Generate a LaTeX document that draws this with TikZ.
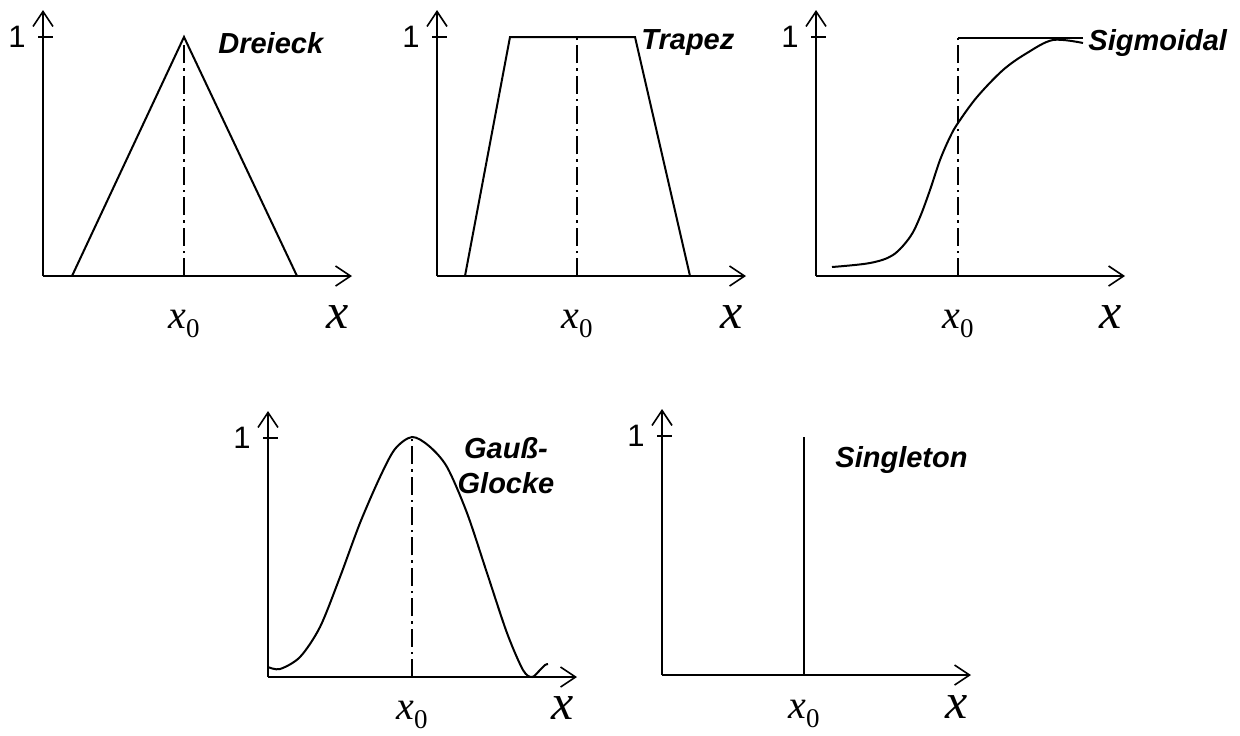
\documentclass[tikz,border=0pt]{standalone}
\usepackage{fontspec}
\setmainfont{Liberation Sans}
\newfontfamily\tnr{Liberation Serif}
\usetikzlibrary{arrows.meta}

\tikzset{
  achse/.style={line width=0.8pt, -{Straight Barb[length=7.5pt,width=10pt]}},
  strich/.style={line width=0.8pt},
  kurve/.style={line width=1pt},
  mitte/.style={line width=0.6pt, dash pattern=on 9pt off 2.5pt on 1.2pt off 2.5pt},
  typ/.style={font=\fontsize{14.5}{17.5}\selectfont\bfseries\itshape, inner sep=0pt},
  eins/.style={font=\fontsize{15.5}{17}\selectfont, inner sep=0pt},
  xnull/.style={font=\fontsize{20}{22}\selectfont\tnr\itshape, anchor=base, inner sep=0pt},
  xgross/.style={font=\fontsize{25}{26}\selectfont\tnr\itshape, anchor=base, inner sep=0pt}
}

% Achsen, Markierung 1 und Beschriftung x0 / x
\newcommand{\achsen}[3]{%
  \draw[achse] (0,0) -- (309,0);
  \draw[achse] (0,0) -- (0,266);
  \draw[strich] (-5,239) -- (10,239);
  \node[eins] (#1eins) at (-26,239) {1};
  \node[xnull] (#1xnull) at (#2,#3) {x{\upshape\fontsize{13.5}{14}\selectfont\raisebox{-4.5pt}{0}}};
  \node[xgross] (#1x) at (295,#3) {x};
}

\begin{document}
\begin{tikzpicture}[x=0.5pt, y=0.5pt]
\useasboundingbox (0,0) rectangle (1240,-735);
% Dreieck
\begin{scope}[shift={(43,-276)}]
  \achsen{drei}{141}{-52}
  \draw[mitte] (141,0) -- (141,239);
  \draw[kurve] (29,0) -- (141,239) -- (254,0);
  \node[typ, anchor=west] (dreieck) at (175,233) {Dreieck};
\end{scope}
% Trapez
\begin{scope}[shift={(437,-276)}]
  \achsen{trap}{140}{-52}
  \draw[mitte] (140,0) -- (140,239);
  \draw[kurve] (28,0) -- (73,239) -- (198,239) -- (253,0);
  \node[typ, anchor=west] (trapez) at (204,233) {Trapez};
\end{scope}
% Sigmoidal
\begin{scope}[shift={(816,-276)}]
  \achsen{sig}{142}{-52}
  \draw[mitte] (142,0) -- (142,238);
  \draw[kurve] (142,238) -- (267,238);
  \draw[kurve] plot[smooth, tension=0.55] coordinates {(16,9) (54,13) (77,21) (94,39) (104,59)
    (114,86) (124,116) (134,139) (142,153) (161,179) (187,206) (211,223) (237,236) (267,233)};
  \node[typ, anchor=west] (sigmoidal) at (272,233) {Sigmoidal};
\end{scope}
% Gauss-Glocke
\begin{scope}[shift={(268,-677)}]
  \achsen{gauss}{144}{-42}
  \draw[mitte] (144,0) -- (144,240);
  \draw[kurve] plot[smooth, tension=0.5] coordinates {(0,10) (12,8) (32,20) (52,50) (72,100)
    (92,154) (112,200) (127,228) (144,240) (161,231) (179,210) (199,164) (219,104) (239,44)
    (255,7) (264,0) (272,7) (277,12) (280,13)};
  \node[typ, align=center] (glocke) at (238,211) {Gauß-\\Glocke};
\end{scope}
% Singleton
\begin{scope}[shift={(662,-675)}]
  \achsen{single}{142}{-43}
  \draw[kurve] (142,0) -- (142,238);
  \node[typ, anchor=west] (singleton) at (173,215) {Singleton};
\end{scope}
\end{tikzpicture}
\end{document}
